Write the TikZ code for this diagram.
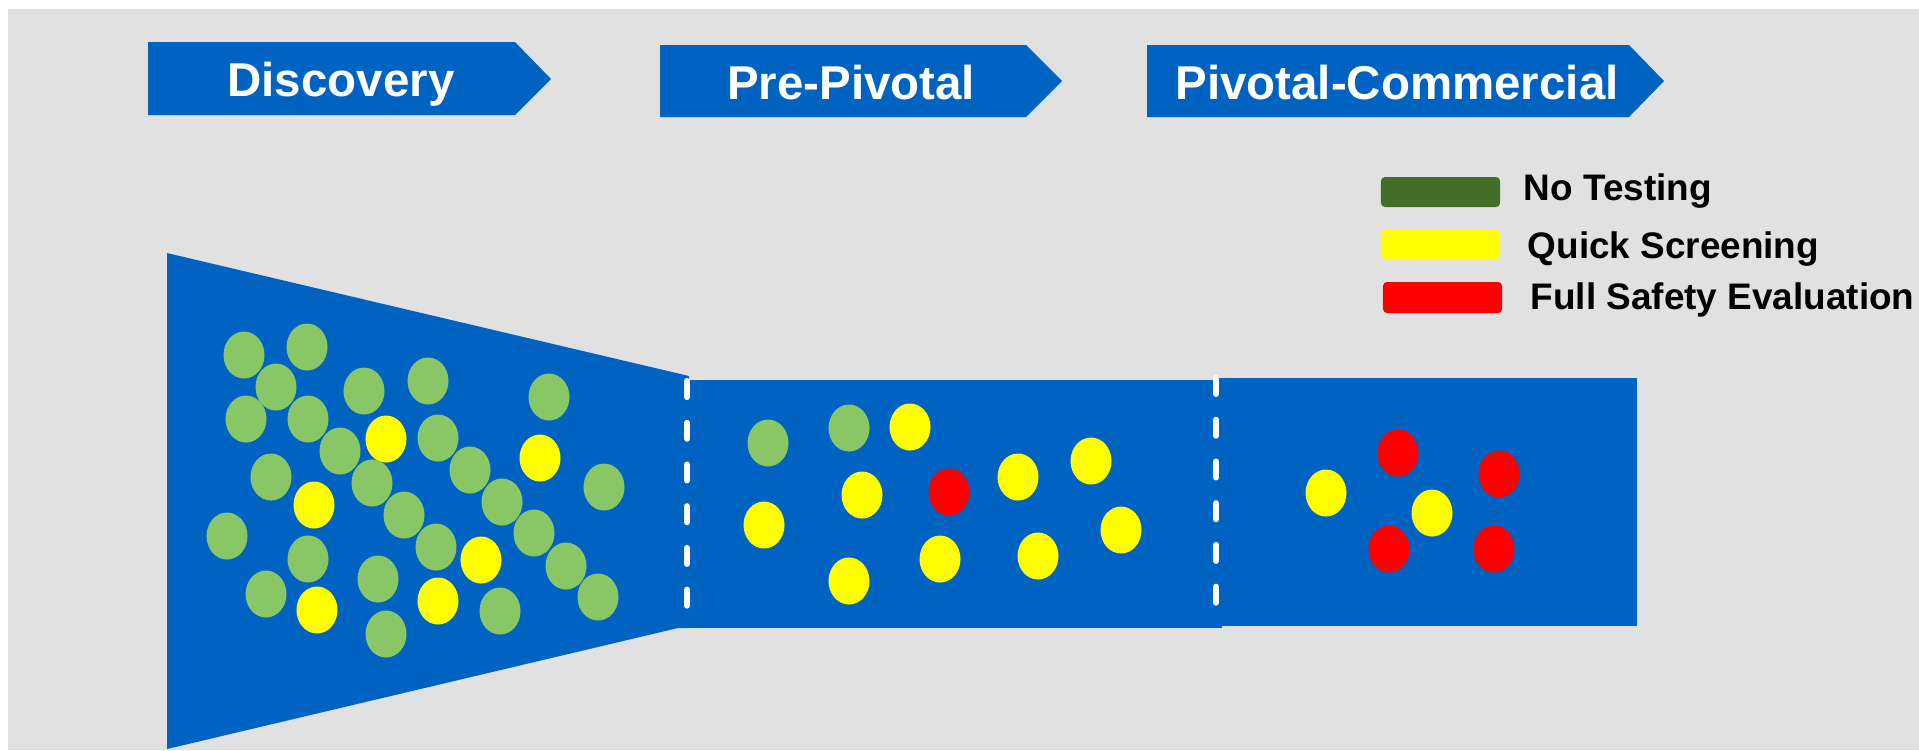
\documentclass[tikz,border=0pt]{standalone}
\usepackage{fontspec}
\setmainfont{Liberation Sans}
\usetikzlibrary{shapes.geometric}
\definecolor{bg}{HTML}{E1E1E1}
\definecolor{flowblue}{HTML}{0063C1}
\definecolor{lightgreen}{HTML}{88C666}
\definecolor{darkgreen}{HTML}{426E28}
\definecolor{pureyellow}{RGB}{255,255,0}
\definecolor{purered}{RGB}{255,0,0}

\begin{document}
\begin{tikzpicture}[x=0.01cm,y=-0.01cm,
  dot/.style={ellipse, minimum width=0.41cm, minimum height=0.47cm, inner sep=0pt, draw=none},
  bannerfill/.style={fill=flowblue},
  bannertext/.style={text=white, font=\fontsize{13.5}{16}\selectfont\bfseries, anchor=base, inner sep=0pt},
  legendbar/.style={rounded corners=0.04cm, minimum width=1.19cm, minimum height=0.30cm, inner sep=0pt},
  legendtext/.style={font=\fontsize{10.5}{12}\selectfont\bfseries, anchor=base west, inner sep=0pt},
  gate/.style={white, line width=0.06cm, line cap=round, dash pattern=on 0.16cm off 0.257cm}]

% canvas
\useasboundingbox (0,0) rectangle (1919,750);
\fill[white] (0,0) rectangle (1919,750);
\fill[bg] (8,9) rectangle (1919,750);

% stage banners
\fill[bannerfill] (148,42) -- (515,42) -- (551,79) -- (515,115) -- (148,115) -- cycle;
\node[bannertext] (discovery) at (341,96) {Discovery};
\fill[bannerfill] (660,45) -- (1026,45) -- (1062,81) -- (1026,117) -- (660,117) -- cycle;
\node[bannertext] (prepivotal) at (851,99) {Pre-Pivotal};
\fill[bannerfill] (1147,45) -- (1629,45) -- (1664,81) -- (1629,117) -- (1147,117) -- cycle;
\node[bannertext] (pivotal) at (1397,99) {Pivotal-Commercial};

% legend
\node[legendbar, fill=darkgreen] (keynone) at (1440.5,192) {};
\node[legendtext] (keynonetext) at (1523,200) {No Testing};
\node[legendbar, fill=pureyellow, minimum height=0.29cm] (keyquick) at (1440.5,244.5) {};
\node[legendtext] (keyquicktext) at (1527,258) {Quick Screening};
\node[legendbar, fill=purered, minimum height=0.31cm] (keyfull) at (1442.5,297.5) {};
\node[legendtext] (keyfulltext) at (1530,309) {Full Safety Evaluation};

% funnel and pipeline
\fill[flowblue] (167,253) -- (689,376) -- (689,628) -- (678,628) -- (167,749) -- cycle;
\fill[flowblue] (678,380) rectangle (1222,628);
\fill[flowblue] (1213,378) rectangle (1637,626);

% stage gates
\draw[gate] (687,381) -- (687,606);
\draw[gate] (1216,378) -- (1216,603);

% candidates in discovery
\foreach \px/\py/\c [count=\i] in {
  244/355/lightgreen, 307/347/lightgreen, 276/387/lightgreen, 246/419/lightgreen,
  308/419/lightgreen, 364/391/lightgreen, 428/381/lightgreen, 549/397/lightgreen,
  340/451/lightgreen, 386/439/pureyellow, 438/438/lightgreen, 540/458/pureyellow,
  271/477/lightgreen, 372/483/lightgreen, 470/470/lightgreen, 604/487/lightgreen,
  314/505/pureyellow, 404/515/lightgreen, 502/502/lightgreen, 227/536/lightgreen,
  308/559/lightgreen, 436/547/lightgreen, 481/560/pureyellow, 534/533/lightgreen,
  566/566/lightgreen, 266/594/lightgreen, 317/610/pureyellow, 378/579/lightgreen,
  438/601/pureyellow, 500/611/lightgreen, 598/597/lightgreen, 386/634/lightgreen}
  \node[dot, fill=\c] (d\i) at (\px,\py) {};

% candidates in pre-pivotal
\foreach \px/\py/\c [count=\i] in {
  768/443/lightgreen, 849/428/lightgreen, 910/427/pureyellow, 862/495/pureyellow,
  949/492/purered, 1018/477/pureyellow, 1091/461/pureyellow, 764/525/pureyellow,
  1121/530/pureyellow, 1038/556/pureyellow, 940/559/pureyellow, 849/581/pureyellow}
  \node[dot, fill=\c] (p\i) at (\px,\py) {};

% candidates in pivotal-commercial
\foreach \px/\py/\c [count=\i] in {
  1326/493/pureyellow, 1398/453/purered, 1432/513/pureyellow,
  1499/474/purered, 1389/549/purered, 1494/549/purered}
  \node[dot, fill=\c] (c\i) at (\px,\py) {};

\end{tikzpicture}
\end{document}
